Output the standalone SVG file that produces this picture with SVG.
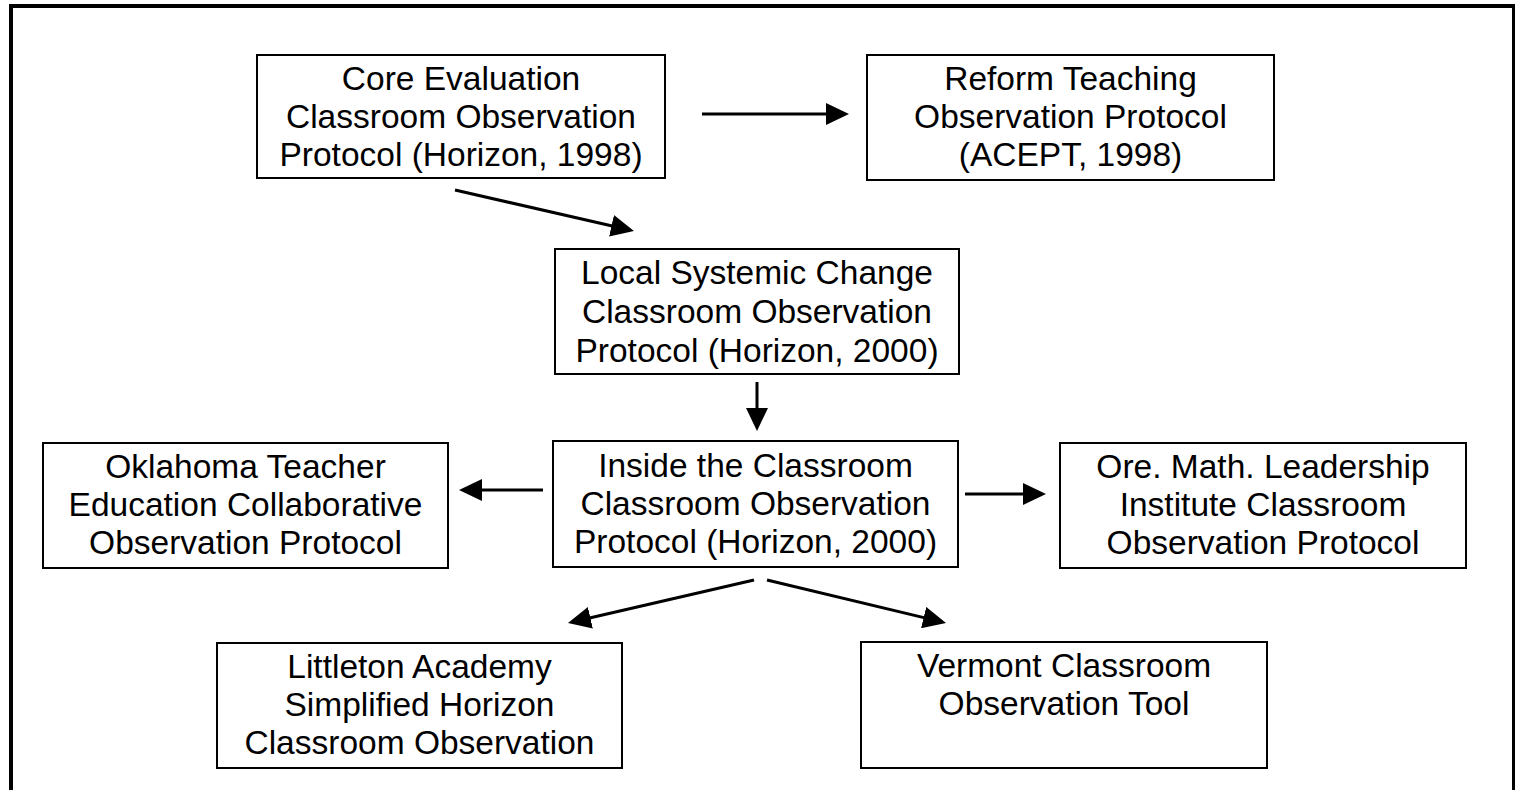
<svg xmlns="http://www.w3.org/2000/svg" width="1515" height="790" viewBox="0 0 1515 790">
<style>
.box{fill:#fff;stroke:#000;stroke-width:2}
.t{font-family:"Liberation Sans",Arial,sans-serif;font-size:33.5px;fill:#000;text-anchor:middle}
.c{stroke:#000;stroke-width:3;fill:none;marker-end:url(#ah)}
</style>
<defs>
<marker id="ah" markerUnits="userSpaceOnUse" markerWidth="23" markerHeight="22" refX="12" refY="11" orient="auto">
<path d="M0,0 L23,11 L0,22 z" fill="#000"/>
</marker>
</defs>
<rect x="0" y="0" width="1515" height="790" fill="#fff"/>
<rect x="11" y="6" width="1503" height="800" fill="none" stroke="#000" stroke-width="4"/>
<g id="connectors">
<line class="c" x1="702" y1="114" x2="838" y2="114"/>
<line class="c" x1="455" y1="190" x2="623.2" y2="228.5"/>
<line class="c" x1="757" y1="382" x2="757" y2="420"/>
<line class="c" x1="543" y1="490" x2="470" y2="490"/>
<line class="c" x1="965" y1="494" x2="1035" y2="494"/>
<line class="c" x1="754" y1="580" x2="578.7" y2="620.5"/>
<line class="c" x1="767" y1="580" x2="935.3" y2="620.4"/>
</g>
<g id="core">
<rect class="box" x="257" y="55" width="408" height="123"/>
<text class="t" x="461" y="90">Core Evaluation</text>
<text class="t" x="461" y="128">Classroom Observation</text>
<text class="t" x="461" y="166">Protocol (Horizon, 1998)</text>
</g>
<g id="reform">
<rect class="box" x="867" y="55" width="407" height="125"/>
<text class="t" x="1070.5" y="90">Reform Teaching</text>
<text class="t" x="1070.5" y="128">Observation Protocol</text>
<text class="t" x="1070.5" y="166">(ACEPT, 1998)</text>
</g>
<g id="local">
<rect class="box" x="555" y="249" width="404" height="125"/>
<text class="t" x="757" y="284">Local Systemic Change</text>
<text class="t" x="757" y="323">Classroom Observation</text>
<text class="t" x="757" y="362">Protocol (Horizon, 2000)</text>
</g>
<g id="inside">
<rect class="box" x="553" y="441" width="405" height="126"/>
<text class="t" x="755.5" y="477">Inside the Classroom</text>
<text class="t" x="755.5" y="515">Classroom Observation</text>
<text class="t" x="755.5" y="553">Protocol (Horizon, 2000)</text>
</g>
<g id="oklahoma">
<rect class="box" x="43" y="443" width="405" height="125"/>
<text class="t" x="245.5" y="478">Oklahoma Teacher</text>
<text class="t" x="245.5" y="516">Education Collaborative</text>
<text class="t" x="245.5" y="554">Observation Protocol</text>
</g>
<g id="ore">
<rect class="box" x="1060" y="443" width="406" height="125"/>
<text class="t" x="1263" y="478">Ore. Math. Leadership</text>
<text class="t" x="1263" y="516">Institute Classroom</text>
<text class="t" x="1263" y="554">Observation Protocol</text>
</g>
<g id="littleton">
<rect class="box" x="217" y="643" width="405" height="125"/>
<text class="t" x="419.5" y="678">Littleton Academy</text>
<text class="t" x="419.5" y="716">Simplified Horizon</text>
<text class="t" x="419.5" y="754">Classroom Observation</text>
</g>
<g id="vermont">
<rect class="box" x="861" y="642" width="406" height="126"/>
<text class="t" x="1064" y="677">Vermont Classroom</text>
<text class="t" x="1064" y="715">Observation Tool</text>
</g>
</svg>
